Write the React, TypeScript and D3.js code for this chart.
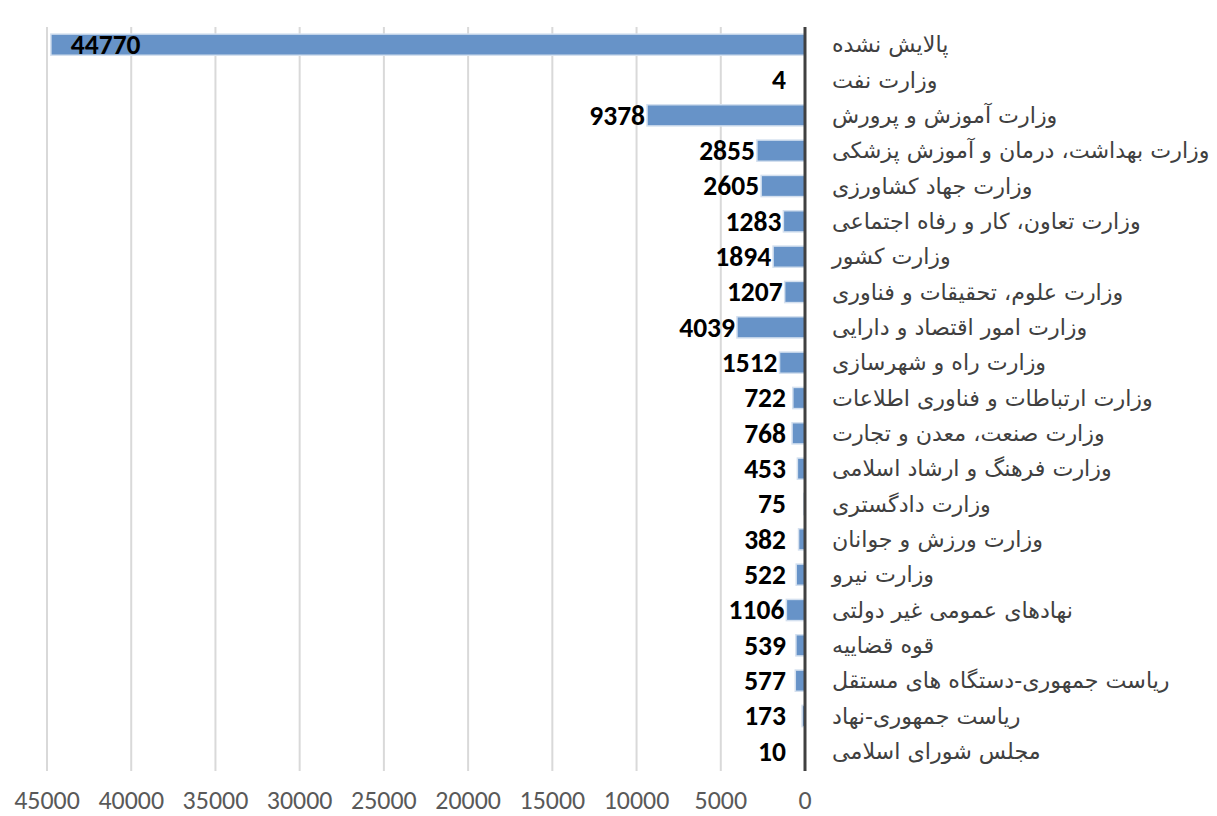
import React from "react";
import * as d3 from "d3";

const categories: string[] = [
  "پالایش نشده",
  "وزارت نفت",
  "وزارت آموزش و پرورش",
  "وزارت بهداشت، درمان و آموزش پزشکی",
  "وزارت جهاد کشاورزی",
  "وزارت تعاون، کار و رفاه اجتماعی",
  "وزارت کشور",
  "وزارت علوم، تحقیقات و فناوری",
  "وزارت امور اقتصاد و دارایی",
  "وزارت راه و شهرسازی",
  "وزارت ارتباطات و فناوری اطلاعات",
  "وزارت صنعت، معدن و تجارت",
  "وزارت فرهنگ و ارشاد اسلامی",
  "وزارت دادگستری",
  "وزارت ورزش و جوانان",
  "وزارت نیرو",
  "نهادهای عمومی غیر دولتی",
  "قوه قضاییه",
  "ریاست جمهوری-دستگاه های مستقل",
  "ریاست جمهوری-نهاد",
  "مجلس شورای اسلامی",
];

const values: number[] = [
  44770, 4, 9378, 2855, 2605, 1283, 1894, 1207, 4039, 1512, 722, 768, 453, 75,
  382, 522, 1106, 539, 577, 173, 10,
];

const tickValues: number[] = [0, 5000, 10000, 15000, 20000, 25000, 30000, 35000, 40000, 45000];

const W = 1217;
const H = 816;
const zeroX = 805;
const maxX = 47;
const top = 27;
const bottom = 769;

export default function App() {
  const x = d3.scaleLinear().domain([0, 45000]).range([zeroX, maxX]);
  const y = d3
    .scaleBand<string>()
    .domain(categories)
    .range([top, bottom])
    .paddingInner(0.4)
    .paddingOuter(0.2);

  return (
    <svg
      width={W}
      height={H}
      style={{ position: "absolute", left: 0, top: 0, background: "#fff" }}
    >
      {tickValues.map((t) =>
        t === 0 ? null : (
          <line
            key={"g" + t}
            x1={x(t)}
            x2={x(t)}
            y1={top}
            y2={bottom + 2}
            stroke="#d9d9d9"
            strokeWidth={2}
          />
        )
      )}
      {categories.map((c, i) => {
        const v = values[i];
        const bx = x(v);
        return (
          <rect
            key={"b" + i}
            x={bx}
            y={y(c)!}
            width={zeroX - bx}
            height={y.bandwidth()}
            fill="#6793c8"
            stroke="#d4e0ef"
            strokeWidth={1.5}
          />
        );
      })}
      <line x1={zeroX} x2={zeroX} y1={top} y2={bottom + 2} stroke="#404040" strokeWidth={3} />
      {categories.map((c, i) => {
        const v = values[i];
        const cy = y(c)! + y.bandwidth() / 2;
        const inside = v > 40000;
        const lx = inside ? x(v) + 20 : Math.min(x(v) - 2, 786);
        return (
          <text
            key={"l" + i}
            x={lx}
            y={cy}
            dy="0.34em"
            textAnchor={inside ? "start" : "end"}
            fontFamily="Carlito, 'Liberation Sans', Arial, sans-serif"
            fontWeight="bold"
            fontSize={27.5}
            fill="#000"
          >
            {v}
          </text>
        );
      })}
      {categories.map((c, i) => (
        <text
          key={"c" + i}
          x={832}
          y={y(c)! + y.bandwidth() / 2}
          dy="0.35em"
          direction="rtl"
          textAnchor="end"
          fontFamily="'DejaVu Sans', sans-serif"
          fontSize={22.2}
          fill="#404040"
        >
          {c}
        </text>
      ))}
      {tickValues.map((t) => (
        <text
          key={"t" + t}
          transform={`translate(${x(t)},${809}) scale(0.96,1)`}
          textAnchor="middle"
          fontFamily="Carlito, 'Liberation Sans', Arial, sans-serif"
          fontSize={27}
          fill="#595959"
        >
          {t}
        </text>
      ))}
    </svg>
  );
}
